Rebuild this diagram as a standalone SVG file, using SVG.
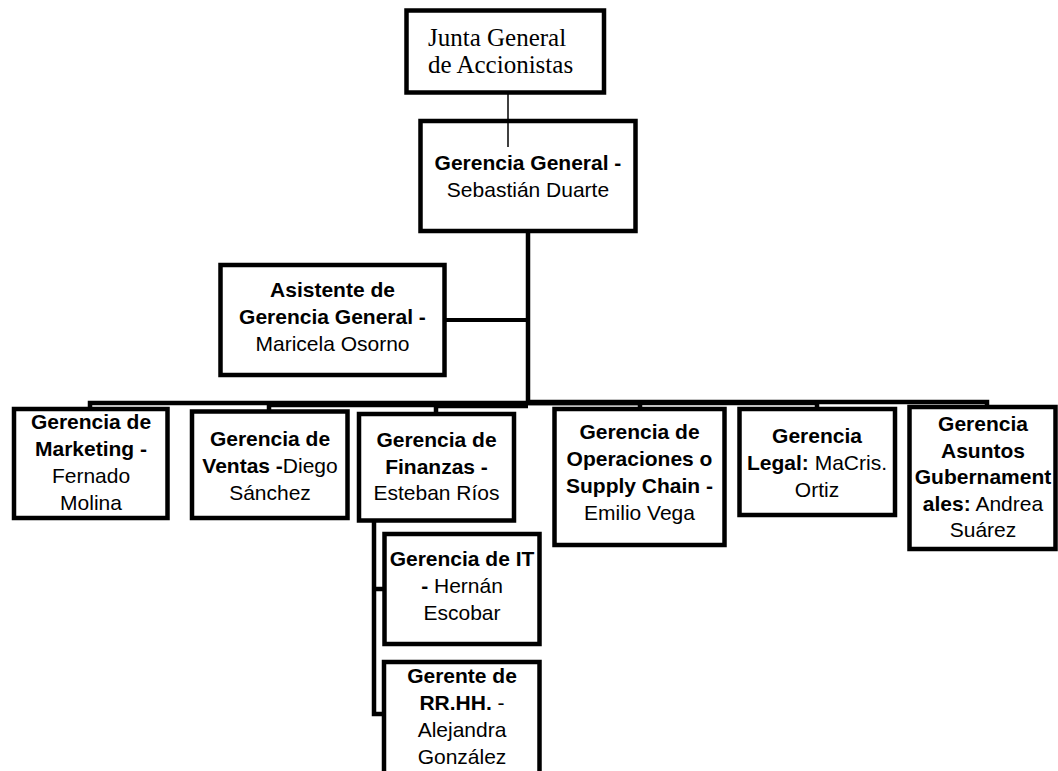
<svg xmlns="http://www.w3.org/2000/svg" width="1058" height="771" viewBox="0 0 1058 771">
<style>
.box{fill:#fff;stroke:#000;stroke-width:4.5;stroke-linejoin:miter}
.t{font-family:"Liberation Sans",Arial,sans-serif;font-size:21px;fill:#000;text-anchor:middle}
.b{font-weight:bold}
.serif{font-family:"Liberation Serif","Times New Roman",serif;font-size:25px;fill:#000}
.c{fill:none;stroke:#000;stroke-width:4.5;stroke-linejoin:miter}
</style>
<rect x="0" y="0" width="1058" height="771" fill="#fff"/>
<g id="connectors">
<path class="c" d="M528 231 V405"/>
<path class="c" d="M528 403 H90 V409"/>
<path class="c" d="M528 405 H269 V411"/>
<path class="c" d="M528 406 H436 V414"/>
<path class="c" d="M528 403 H640 V409"/>
<path class="c" d="M528 403 H817 V409"/>
<path class="c" d="M528 402 H987 V407"/>
<path class="c" d="M444 320 H528" style="stroke-width:4"/>
<path class="c" d="M374 520 V714 H384 M374 589 H384"/>
<path class="c" d="M508 93 V147" style="stroke-width:1.5"/>
</g>
<g id="junta">
<rect class="box" x="406.5" y="10.5" width="197.5" height="82"/>
<text class="serif" x="428" y="46">Junta General</text>
<text class="serif" x="428" y="73">de Accionistas</text>
</g>
<g id="gerencia-general">
<rect class="box" x="420.5" y="121" width="215" height="110"/>
<line x1="508" y1="123" x2="508" y2="147" stroke="#000" stroke-width="1.5"/>
<text class="t b" x="528" y="170">Gerencia General -</text>
<text class="t" x="528" y="197">Sebastián Duarte</text>
</g>
<g id="asistente">
<rect class="box" x="220.5" y="265" width="224" height="110"/>
<text class="t b" x="332.5" y="297">Asistente de</text>
<text class="t b" x="332.5" y="324">Gerencia General -</text>
<text class="t" x="332.5" y="351">Maricela Osorno</text>
</g>
<g id="marketing">
<rect class="box" x="14" y="409" width="153.5" height="109"/>
<text class="t b" x="91" y="429">Gerencia de</text>
<text class="t b" x="91" y="456">Marketing -</text>
<text class="t" x="91" y="483">Fernado</text>
<text class="t" x="91" y="510">Molina</text>
</g>
<g id="ventas">
<rect class="box" x="192" y="411.5" width="155.5" height="106.5"/>
<text class="t b" x="270" y="446">Gerencia de</text>
<text class="t" x="270" y="473"><tspan class="b">Ventas -</tspan>Diego</text>
<text class="t" x="270" y="500">Sánchez</text>
</g>
<g id="finanzas">
<rect class="box" x="359" y="414" width="155" height="106.5"/>
<text class="t b" x="436.5" y="447">Gerencia de</text>
<text class="t b" x="436.5" y="474">Finanzas -</text>
<text class="t" x="436.5" y="500">Esteban Ríos</text>
</g>
<g id="operaciones">
<rect class="box" x="554.5" y="409" width="170" height="136"/>
<text class="t b" x="639.5" y="439">Gerencia de</text>
<text class="t b" x="639.5" y="466">Operaciones o</text>
<text class="t b" x="639.5" y="493">Supply Chain -</text>
<text class="t" x="639.5" y="520">Emilio Vega</text>
</g>
<g id="legal">
<rect class="box" x="739.5" y="409" width="155.5" height="106"/>
<text class="t b" x="817" y="443">Gerencia</text>
<text class="t" x="817" y="470"><tspan class="b">Legal:</tspan> MaCris.</text>
<text class="t" x="817" y="497">Ortiz</text>
</g>
<g id="gubernamentales">
<rect class="box" x="909.5" y="407" width="146" height="142"/>
<text class="t b" x="983" y="431">Gerencia</text>
<text class="t b" x="983" y="458">Asuntos</text>
<text class="t b" x="983" y="484">Gubernament</text>
<text class="t" x="983" y="511"><tspan class="b">ales:</tspan> Andrea</text>
<text class="t" x="983" y="537">Suárez</text>
</g>
<g id="it">
<rect class="box" x="384.5" y="534" width="155" height="110"/>
<text class="t b" x="462" y="566">Gerencia de IT</text>
<text class="t" x="462" y="593"><tspan class="b">-</tspan> Hernán</text>
<text class="t" x="462" y="620">Escobar</text>
</g>
<g id="rrhh">
<rect class="box" x="384" y="662" width="155.5" height="113"/>
<text class="t b" x="462" y="683">Gerente de</text>
<text class="t" x="462" y="710"><tspan class="b">RR.HH.</tspan> -</text>
<text class="t" x="462" y="737">Alejandra</text>
<text class="t" x="462" y="764">González</text>
</g>
</svg>
